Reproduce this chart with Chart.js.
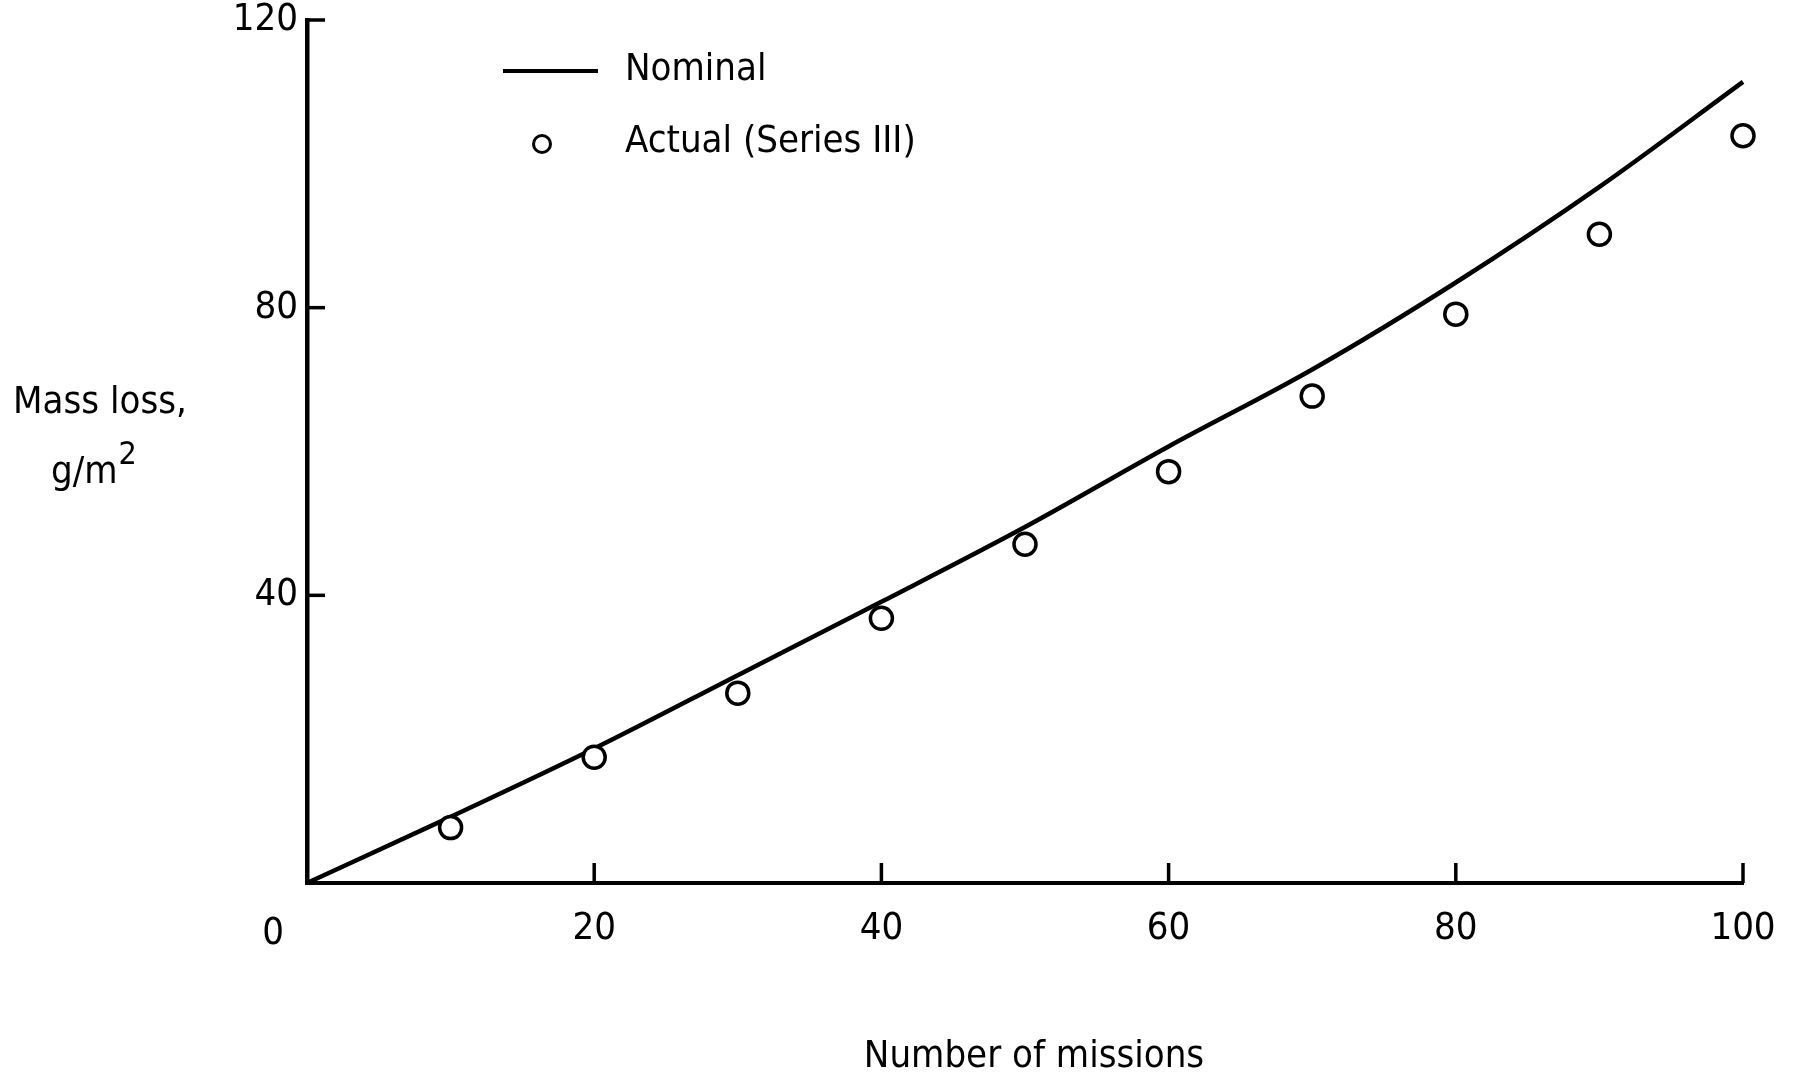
<!DOCTYPE html>
<html>
<head>
<meta charset="utf-8">
<script src="https://cdn.jsdelivr.net/npm/chart.js@4.4.1/dist/chart.umd.min.js"></script>
<style>
  html, body { margin: 0; padding: 0; background: #fff; }
  #wrap { width: 1794px; height: 1081px; }
</style>
</head>
<body>
<div id="wrap"><canvas id="c" width="1794" height="1081"></canvas></div>
<script>
// Mass loss against number of missions
const missions = [0, 10, 20, 30, 40, 50, 60, 70, 80, 90, 100];
const nominalLoss = [0, 9.2, 18.7, 28.9, 39.1, 49.5, 60.7, 71.4, 83.5, 96.8, 111.4];
const actualMissions = [10, 20, 30, 40, 50, 60, 70, 80, 90, 100];
const actualLoss = [7.7, 17.5, 26.4, 36.8, 47.1, 57.2, 67.7, 79.1, 90.2, 103.9];
const xTickValues = [0, 20, 40, 60, 80, 100];
const yTickValues = [0, 40, 80, 120];
const seriesNames = ['Nominal', 'Actual (Series III)'];
const xTitle = 'Number of missions';
const yTitleLines = ['Mass loss,', 'g/m', '2'];

const FONT = '"DejaVu Sans Condensed", "DejaVu Sans", sans-serif';
const NUM_FONT = '"Liberation Sans Narrow", "DejaVu Sans Condensed", sans-serif';
const INK = '#000';

// Inward tick marks, legend, axis titles and the corner zero
const decorations = {
  id: 'decorations',
  afterDraw(chart) {
    const ctx = chart.ctx;
    const xs = chart.scales.x, ys = chart.scales.y;
    const area = chart.chartArea;
    ctx.save();
    ctx.strokeStyle = INK;
    ctx.lineWidth = 3.5;
    ctx.lineCap = 'butt';
    xTickValues.forEach(v => {
      if (v === 0) return;
      const px = xs.getPixelForValue(v);
      ctx.beginPath();
      ctx.moveTo(px, area.bottom);
      ctx.lineTo(px, area.bottom - 20);
      ctx.stroke();
    });
    yTickValues.forEach(v => {
      if (v === 0) return;
      const py = ys.getPixelForValue(v);
      ctx.beginPath();
      ctx.moveTo(area.left, py);
      ctx.lineTo(area.left + 18, py);
      ctx.stroke();
    });

    ctx.fillStyle = INK;
    ctx.textBaseline = 'alphabetic';

    // zero at the corner
    ctx.font = '38px ' + NUM_FONT;
    ctx.textAlign = 'center';
    ctx.fillText(String(xTickValues[0]), xs.getPixelForValue(0) - 34, 944);

    // legend
    ctx.font = '38px ' + FONT;
    const nom = chart.data.datasets[0], act = chart.data.datasets[1];
    ctx.strokeStyle = nom.borderColor;
    ctx.lineWidth = 4;
    ctx.beginPath();
    ctx.moveTo(503, 71);
    ctx.lineTo(598, 71);
    ctx.stroke();
    ctx.textAlign = 'left';
    ctx.fillText(nom.label, 625, 80);

    ctx.beginPath();
    ctx.arc(542, 144, 8.5, 0, Math.PI * 2);
    ctx.fillStyle = act.backgroundColor;
    ctx.fill();
    ctx.lineWidth = 3;
    ctx.strokeStyle = act.borderColor;
    ctx.stroke();
    ctx.fillStyle = INK;
    ctx.fillText(act.label, 625, 152);

    // axis titles
    ctx.textAlign = 'center';
    ctx.fillText(yTitleLines[0], 100, 413);
    ctx.textAlign = 'left';
    ctx.fillText(yTitleLines[1], 51, 483);
    const w = ctx.measureText(yTitleLines[1]).width;
    ctx.font = '32px ' + FONT;
    ctx.fillText(yTitleLines[2], 51 + w + 1, 464);
    ctx.font = '38px ' + FONT;
    ctx.textAlign = 'center';
    ctx.fillText(xTitle, 1034, 1067);
    ctx.restore();
  }
};

new Chart(document.getElementById('c'), {
  data: {
    datasets: [
      {
        type: 'line',
        label: seriesNames[0],
        data: missions.map((m, i) => ({ x: m, y: nominalLoss[i] })),
        borderColor: INK,
        borderWidth: 4.5,
        pointRadius: 0,
        cubicInterpolationMode: 'monotone',
        fill: false,
        clip: false,
        order: 2
      },
      {
        type: 'scatter',
        label: seriesNames[1],
        data: actualMissions.map((m, i) => ({ x: m, y: actualLoss[i] })),
        pointStyle: 'circle',
        pointRadius: 11,
        pointBorderWidth: 3.5,
        borderColor: INK,
        backgroundColor: '#fff',
        clip: false,
        order: 1
      }
    ]
  },
  options: {
    responsive: false,
    animation: false,
    devicePixelRatio: 1,
    layout: { padding: { left: 0, top: 20, right: 51, bottom: 0 } },
    plugins: {
      legend: { display: false },
      tooltip: { enabled: false }
    },
    scales: {
      x: {
        type: 'linear',
        min: 0,
        max: 100,
        afterBuildTicks(s) { s.ticks = xTickValues.map(v => ({ value: v })); },
        afterFit(s) { s.height = 198; s.paddingLeft = 0; s.paddingRight = 0; },
        grid: { display: false, drawTicks: false },
        border: { display: true, color: INK, width: 4 },
        ticks: {
          color: INK,
          font: { family: NUM_FONT, size: 38 },
          padding: 23,
          maxRotation: 0,
          callback: v => (v === 0 ? '' : String(v))
        }
      },
      y: {
        type: 'linear',
        min: 0,
        max: 120,
        afterBuildTicks(s) { s.ticks = yTickValues.map(v => ({ value: v })); },
        afterFit(s) { s.width = 307; s.paddingTop = 0; s.paddingBottom = 0; },
        grid: { display: false, drawTicks: false },
        border: { display: true, color: INK, width: 4.5 },
        ticks: {
          color: INK,
          font: { family: NUM_FONT, size: 38 },
          padding: 9,
          callback: v => (v === 0 ? '' : String(v))
        }
      }
    }
  },
  plugins: [decorations]
});
</script>
</body>
</html>
